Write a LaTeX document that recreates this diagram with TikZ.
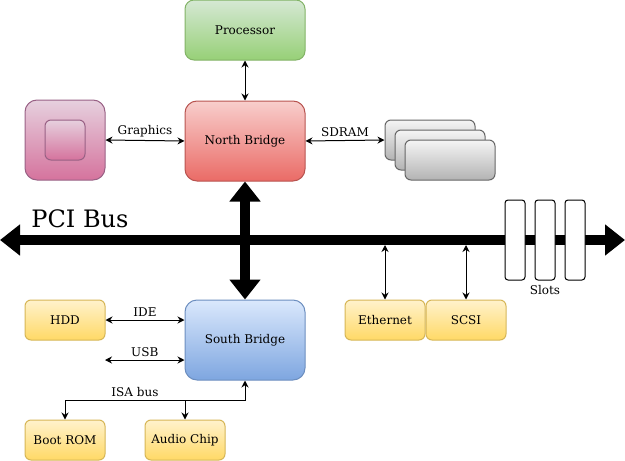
\documentclass[tikz,border=0pt]{standalone}
\usepackage{fontspec}
\setmainfont{DejaVu Serif}
\usetikzlibrary{arrows.meta,positioning}
\definecolor{grnTop}{HTML}{D5E8D4}\definecolor{grnBot}{HTML}{97D077}\definecolor{grnLine}{HTML}{82B366}
\definecolor{redTop}{HTML}{F8CECC}\definecolor{redBot}{HTML}{EA6B66}\definecolor{redLine}{HTML}{B85450}
\definecolor{pnkTop}{HTML}{E6D0DE}\definecolor{pnkBot}{HTML}{D5739D}\definecolor{pnkLine}{HTML}{996185}
\definecolor{gryTop}{HTML}{F5F5F5}\definecolor{gryBot}{HTML}{B3B3B3}\definecolor{gryLine}{HTML}{666666}
\definecolor{ylwTop}{HTML}{FFF2CC}\definecolor{ylwBot}{HTML}{FFD966}\definecolor{ylwLine}{HTML}{D6B656}
\definecolor{bluTop}{HTML}{DAE8FC}\definecolor{bluBot}{HTML}{7EA6E0}\definecolor{bluLine}{HTML}{6C8EBF}
\tikzset{
	greenbox/.style={draw=grnLine, top color=grnTop, bottom color=grnBot},
	redbox/.style={draw=redLine, top color=redTop, bottom color=redBot},
	pinkbox/.style={draw=pnkLine, top color=pnkTop, bottom color=pnkBot},
	greybox/.style={draw=gryLine, top color=gryTop, bottom color=gryBot},
	yellowbox/.style={draw=ylwLine, top color=ylwTop, bottom color=ylwBot, minimum width=80pt, minimum height=40pt, rounded corners=6pt},
	bluebox/.style={draw=bluLine, top color=bluTop, bottom color=bluBot},
	slot/.style={draw, fill=white, minimum width=20pt, minimum height=80pt, rounded corners=3pt},
	conn/.style={{Stealth[length=7pt,width=7pt]}-{Stealth[length=7pt,width=7pt]}},
	onearrow/.style={-{Stealth[length=7pt,width=7pt]}},
	bus/.style={line width=10pt, {Triangle[length=20pt,width=30pt]}-{Triangle[length=20pt,width=30pt]}}
}
\begin{document}
\begin{tikzpicture}[x=1pt, y=-1pt, line width=1pt, font=\fontsize{12pt}{14pt}\selectfont, node distance=40pt]
	\useasboundingbox (0,0) rectangle (625,461);
	
	\node[greenbox, minimum width=120pt, minimum height=60pt, rounded corners=9pt] (proc) at (245,30) {Processor};
	\node[redbox, minimum width=120pt, minimum height=80pt, rounded corners=12pt, below=of proc] (nb) {North Bridge};
	\node[pinkbox, minimum width=80pt, minimum height=80pt, rounded corners=12pt] (gpu) at (65,140) {};
	\node[pinkbox, minimum width=40pt, minimum height=40pt, rounded corners=6pt] (gpuIn) at (gpu) {};
	\node[greybox, minimum width=90pt, minimum height=40pt, rounded corners=6pt] (ram1) at (430,140) {};
	\node[greybox, minimum width=90pt, minimum height=40pt, rounded corners=6pt] (ram2) at (440,150) {};
	\node[greybox, minimum width=90pt, minimum height=40pt, rounded corners=6pt] (ram3) at (450,160) {};
	
	\draw[conn] (proc) -- (nb);
	\draw[conn] (gpu.east) -- node[above] {Graphics} (nb.west);
	\draw[conn] (nb.east) -- node[above] {SDRAM} (ram1.west);
	
	\coordinate (busL) at (0,240);
	\coordinate (busR) at (625,240);
	\coordinate (busB) at (0,245);
	\draw[bus] (busL) -- (busR);
	\node[font=\fontsize{24pt}{28pt}\selectfont] (pci) at (80,219) {PCI Bus};
	
	\node[slot] (s1) at (515,240) {};
	\node[slot] (s2) at (545,240) {};
	\node[slot] (s3) at (575,240) {};
	\node[below=1pt of s2] (slots) {Slots};
	
	\node[bluebox, minimum width=120pt, minimum height=80pt, rounded corners=12pt] (sb) at (245,340) {South Bridge};
	\draw[bus] (nb.south) -- (sb.north);
	
	\node[yellowbox] (eth) at (385,320) {Ethernet};
	\node[yellowbox, right=0pt of eth] (scsi) {SCSI};
	\draw[conn] (eth.north) -- (eth.north |- busB);
	\draw[conn] (scsi.north) -- (scsi.north |- busB);
	
	\node[yellowbox] (hdd) at (65,320) {HDD};
	\coordinate (usb) at (105,360);
	\draw[conn] (hdd.east) -- node[above] {IDE} (hdd.east -| sb.west);
	\draw[conn] (usb) -- node[above] {USB} (usb -| sb.west);
	
	\node[yellowbox] (boot) at (65,440) {Boot ROM};
	\node[yellowbox] (audio) at (185,440) {Audio Chip};
	\coordinate (isa) at (245,400);
	\draw[conn] (sb.south) -- (isa) -| (boot.north);
	\draw[onearrow] (audio.north |- isa) -- (audio.north);
	\node[above] (isaLbl) at (135,400) {ISA bus};
\end{tikzpicture}
\end{document}
